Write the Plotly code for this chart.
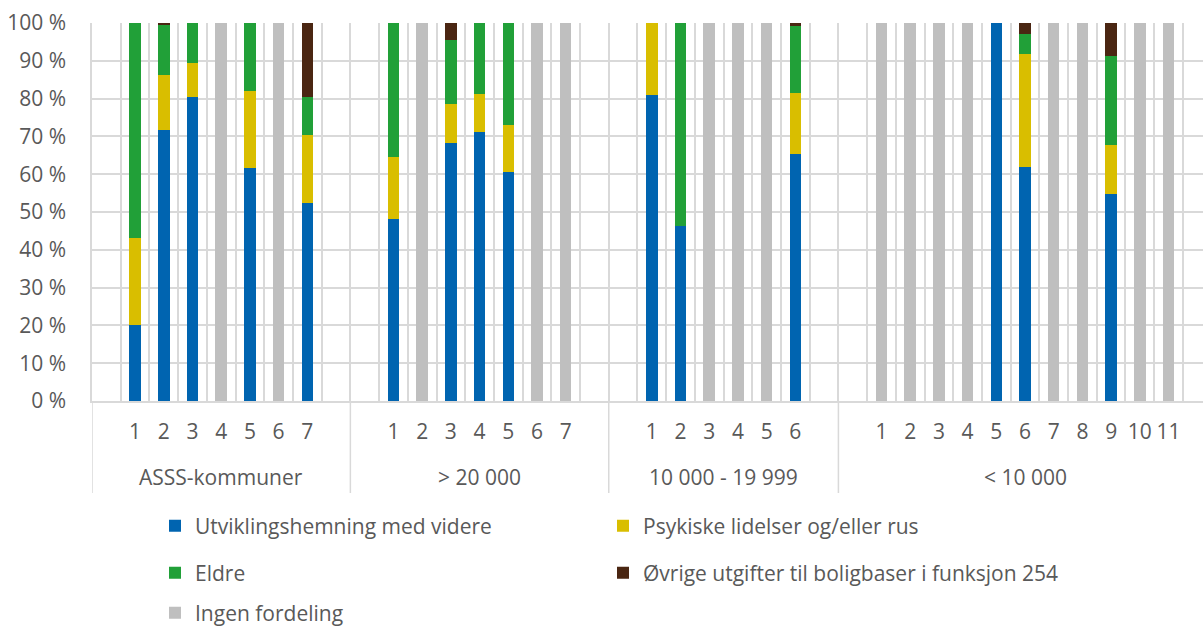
import plotly.graph_objects as go

# Kommunegrupper og nummererte kommuner innen hver gruppe
groups = ["ASSS-kommuner", "> 20 000", "10 000 - 19 999", "< 10 000"]
group_members = [
    ["1", "2", "3", "4", "5", "6", "7"],
    ["1", "2", "3", "4", "5", "6", "7"],
    ["1", "2", "3", "4", "5", "6"],
    ["1", "2", "3", "4", "5", "6", "7", "8", "9", "10", "11"],
]

series_names = [
    "Utviklingshemning med videre",
    "Psykiske lidelser og/eller rus",
    "Eldre",
    "Øvrige utgifter til boligbaser i funksjon 254",
    "Ingen fordeling",
]
series_colors = ["#0064B0", "#D9BE00", "#21A038", "#4A2612", "#BFBFBF"]

# Andel (prosent) per kommune, i rekkefølgen gruppe for gruppe
utvikling = [20.1, 71.7, 80.5, None, 61.7, None, 52.3,
             48.1, None, 68.3, 71.2, 60.7, None, None,
             81.0, 46.3, None, None, None, 65.3,
             None, None, None, None, 100.0, 62.0, None, None, 54.8, None, None]
psykiske = [23.0, 14.5, 9.0, None, 20.4, None, 18.1,
            16.5, None, 10.3, 10.1, 12.4, None, None,
            19.0, None, None, None, None, 16.2,
            None, None, None, None, None, 29.8, None, None, 12.9, None, None]
eldre = [56.9, 13.3, 10.5, None, 17.9, None, 9.9,
         35.4, None, 16.9, 18.7, 26.9, None, None,
         None, 53.7, None, None, None, 17.7,
         None, None, None, None, None, 5.4, None, None, 23.7, None, None]
ovrige = [None, 0.5, None, None, None, None, 19.7,
          None, None, 4.5, None, None, None, None,
          None, None, None, None, None, 0.8,
          None, None, None, None, None, 2.8, None, None, 8.6, None, None]
ingen = [None, None, None, 100.0, None, 100.0, None,
         None, 100.0, None, None, None, 100.0, 100.0,
         None, None, 100.0, 100.0, 100.0, None,
         100.0, 100.0, 100.0, 100.0, None, None, 100.0, 100.0, None, 100.0, 100.0]

y_ticks = list(range(0, 101, 10))
y_tick_labels = [f"{v} %" for v in y_ticks]

series_values = [utvikling, psykiske, eldre, ovrige, ingen]

# Hver forklaringsoppføring får sin egen legend-boks (to kolonner, tre rader)
legend_ids = ["legend", "legend4", "legend2", "legend5", "legend3"]
legend_spots = {  # (venstre kant px, midtlinje px)
    "legend": (155, 526), "legend2": (155, 573), "legend3": (155, 613),
    "legend4": (603, 526), "legend5": (603, 573),
}

# Plassering: én tom plass før og etter hver gruppe
positions, labels, group_centers, boundaries = [], [], [], []
offset = 0
for members in group_members:
    boundaries.append(offset - 0.5)
    pos = [offset + 1 + i for i in range(len(members))]
    positions += pos
    labels += members
    group_centers.append((pos[0] + pos[-1]) / 2)
    offset += len(members) + 2
boundaries.append(offset - 0.5)
slot_edges = [k - 0.5 for k in range(offset + 1)]

W, H = 1203, 628
FONT = "Open Sans"
FS = 21
TXT = "#595959"
GRID = "#D9D9D9"

fig = go.Figure()
for name, vals, col, lg in zip(series_names, series_values, series_colors, legend_ids):
    fig.add_trace(go.Bar(
        x=positions, y=vals, name=name, marker=dict(color=col, line=dict(width=0)),
        width=0.4, legend=lg, showlegend=True,
        hovertemplate="%{y:.1f} %<extra>" + name + "</extra>",
    ))

label_depth = 92 / 378
shapes = [dict(type="line", xref="x", yref="paper", x0=b, x1=b, y0=0, y1=-label_depth,
               line=dict(color=GRID, width=1.5), layer="below")
          for b in boundaries[:-1]]
annotations = [dict(text=g, x=c, xref="x", y=0, yref="paper", yshift=-76,
                    yanchor="middle", showarrow=False,
                    font=dict(family=FONT, size=FS, color=TXT))
               for g, c in zip(groups, group_centers)]

legends = {}
for lid, (lx, ly) in legend_spots.items():
    legends[lid] = dict(orientation="h", xref="container", yref="container",
                        x=lx / W, y=1 - ly / H, xanchor="left", yanchor="middle",
                        font=dict(family=FONT, size=FS, color=TXT),
                        bgcolor="rgba(0,0,0,0)")

fig.update_layout(
    width=W, height=H,
    margin=dict(l=92, r=0, t=23, b=227),
    barmode="stack",
    showlegend=True,
    plot_bgcolor="white", paper_bgcolor="white",
    font=dict(family=FONT, size=FS, color=TXT),
    bargap=0,
    shapes=shapes,
    annotations=annotations,
    **legends,
    xaxis=dict(
        range=[-0.5, 38.2], tickmode="array", tickvals=positions, ticktext=labels,
        showgrid=False, zeroline=False, showline=True, linecolor=GRID, linewidth=1.5,
        ticks="", ticklabelstandoff=11,
        tickfont=dict(family=FONT, size=FS, color=TXT),
        minor=dict(tickmode="array", tickvals=slot_edges,
                   showgrid=True, gridcolor=GRID, gridwidth=1.5, ticks=""),
        fixedrange=True,
    ),
    yaxis=dict(
        range=[0, 100], tickmode="array", tickvals=y_ticks, ticktext=y_tick_labels,
        showgrid=True, gridcolor=GRID, gridwidth=1.5,
        zeroline=False, showline=True, linecolor=GRID, linewidth=1.5,
        ticks="", ticklabelstandoff=20,
        tickfont=dict(family=FONT, size=FS, color=TXT),
        fixedrange=True,
    ),
)

fig.write_html("out.html")
